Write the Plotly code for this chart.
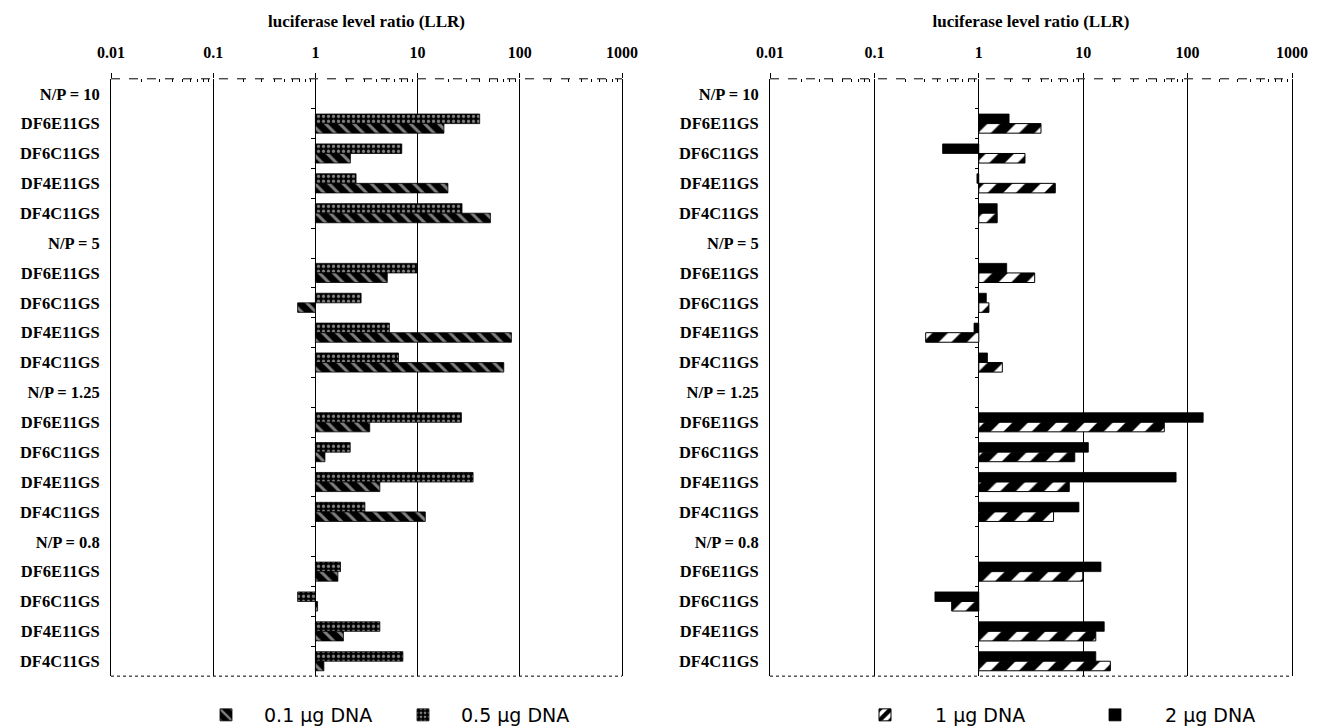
import plotly.graph_objects as go

# ---------------- data ----------------
rows = ["N/P = 10", "DF6E11GS", "DF6C11GS", "DF4E11GS", "DF4C11GS",
        "N/P = 5", "DF6E11GS", "DF6C11GS", "DF4E11GS", "DF4C11GS",
        "N/P = 1.25", "DF6E11GS", "DF6C11GS", "DF4E11GS", "DF4C11GS",
        "N/P = 0.8", "DF6E11GS", "DF6C11GS", "DF4E11GS", "DF4C11GS"]
row_pos = list(range(len(rows)))

llr_01ug = [None, 18.1, 2.2, 19.8, 51.6, None, 5.05, 0.67, 82.8, 69.7,
            None, 3.4, 1.24, 4.27, 11.9, None, 1.66, 1.05, 1.88, 1.21]
llr_05ug = [None, 40.5, 7.0, 2.5, 27.2, None, 9.85, 2.8, 5.3, 6.5,
            None, 26.8, 2.19, 34.9, 3.05, None, 1.76, 0.67, 4.27, 7.18]
llr_1ug = [None, 3.94, 2.77, 5.4, 1.5, None, 3.43, 1.25, 0.31, 1.68,
           None, 59.8, 8.3, 7.35, 5.2, None, 9.9, 0.55, 13.2, 18.2]
llr_2ug = [None, 1.95, 0.45, 0.96, 1.5, None, 1.85, 1.18, 0.9, 1.21,
           None, 141, 11.2, 77.6, 9.1, None, 14.8, 0.38, 15.9, 13.2]

x_ticks = [0.01, 0.1, 1, 10, 100, 1000]
x_tick_text = ["0.01", "0.1", "1", "10", "100", "1000"]
x_title = "luciferase level ratio (LLR)"

# ---------------- helpers ----------------
def from_one(vals):
    return [None if v is None else v - 1 for v in vals]

SERIF = "Liberation Serif"
SANS = "DejaVu Sans"

fig = go.Figure()

# left panel: top bar 0.5 ug (dotted), bottom bar 0.1 ug (diagonal)
fig.add_trace(go.Bar(
    y=row_pos, x=from_one(llr_05ug), base=1, orientation="h",
    name="0.5 μg DNA", legend="legend", legendrank=2,
    marker=dict(color="black", line=dict(color="black", width=0.8),
                pattern=dict(shape=".", fgcolor="white", bgcolor="black",
                             size=5, solidity=0.35)),
    xaxis="x", yaxis="y"))
fig.add_trace(go.Bar(
    y=row_pos, x=from_one(llr_01ug), base=1, orientation="h",
    name="0.1 μg DNA", legend="legend", legendrank=1,
    marker=dict(color="black", line=dict(color="black", width=0.8),
                pattern=dict(shape="\\", fgcolor="white", bgcolor="black",
                             size=10, solidity=0.3)),
    xaxis="x", yaxis="y"))

# right panel: top bar 2 ug (solid), bottom bar 1 ug (hatched)
fig.add_trace(go.Bar(
    y=row_pos, x=from_one(llr_2ug), base=1, orientation="h",
    name="2 μg DNA", legend="legend2", legendrank=2,
    marker=dict(color="black", line=dict(color="black", width=0.8)),
    xaxis="x2", yaxis="y2"))
fig.add_trace(go.Bar(
    y=row_pos, x=from_one(llr_1ug), base=1, orientation="h",
    name="1 μg DNA", legend="legend2", legendrank=1,
    marker=dict(color="white", line=dict(color="black", width=1),
                pattern=dict(shape="/", fgcolor="black", bgcolor="white",
                             fgopacity=1, size=20, solidity=0.55)),
    xaxis="x2", yaxis="y2"))

# empty traces that carry the category tick axes drawn at ratio = 1
fig.add_trace(go.Scatter(x=[], y=[], xaxis="x", yaxis="y3", showlegend=False, hoverinfo="skip"))
fig.add_trace(go.Scatter(x=[], y=[], xaxis="x2", yaxis="y4", showlegend=False, hoverinfo="skip"))

# ---------------- layout (page has an 8px body margin) ----------------
W, H = 1318, 726
OFF = 8

def px_x(p):
    return (p - OFF) / W

def px_y(p):
    return 1 - (p - OFF) / H

left_dom = [px_x(111), px_x(622)]
right_dom = [px_x(770), px_x(1292)]
y_dom = [px_y(678), px_y(79)]

minor_vals = [m * 10 ** e for e in range(-2, 3) for m in range(2, 10)]

def xaxis_cfg(dom, anchor):
    return dict(
        type="log", range=[-2, 3], domain=dom, anchor=anchor, side="top",
        tickmode="array", tickvals=x_ticks, ticktext=x_tick_text,
        ticks="outside", ticklen=5, tickcolor="black", tickwidth=1,
        ticklabelstandoff=8,
        showgrid=True, gridcolor="black", gridwidth=1,
        showline=False, zeroline=False, automargin=False,
        tickfont=dict(family=SERIF, size=16, color="black", weight="bold"),
        title=dict(text=x_title, standoff=12,
                   font=dict(family=SERIF, size=17, color="black", weight="bold")),
        minor=dict(tickmode="array", tickvals=minor_vals, ticks="inside",
                   ticklen=3, tickcolor="black", tickwidth=1, showgrid=False),
        fixedrange=True,
    )

def yaxis_cfg(anchor):
    return dict(
        domain=y_dom, anchor=anchor, range=[19.5, -0.5],
        tickmode="array", tickvals=row_pos, ticktext=rows, ticks="",
        showgrid=False, zeroline=False, showline=True, mirror=True,
        linecolor="black", linewidth=1, automargin=False,
        ticklabelstandoff=7,
        tickfont=dict(family=SERIF, size=16.5, color="black", weight="bold"),
        fixedrange=True,
    )

def tick_axis_cfg(overlay, dom):
    return dict(
        overlaying=overlay, anchor="free",
        position=dom[0] + (dom[1] - dom[0]) * 2 / 5,
        range=[19.5, -0.5], tickmode="array",
        tickvals=[k + 0.5 for k in range(len(rows) - 1)],
        ticks="outside", ticklen=4, tickcolor="black", tickwidth=1,
        showticklabels=False, showgrid=False, zeroline=False, showline=False,
        automargin=False, fixedrange=True,
    )

frame_shapes = []
for xr, yr in (("x domain", "y domain"), ("x2 domain", "y2 domain")):
    frame_shapes.append(dict(type="line", xref=xr, yref=yr, x0=0, x1=1, y0=1, y1=1,
                             line=dict(color="black", width=1, dash="dash")))
    frame_shapes.append(dict(type="line", xref=xr, yref=yr, x0=0, x1=1, y0=0, y1=0,
                             line=dict(color="black", width=1, dash="dot")))

legend_common = dict(orientation="h", yanchor="middle", xanchor="left", y=px_y(717),
                     font=dict(family=SANS, size=19, color="black"),
                     bgcolor="rgba(0,0,0,0)", traceorder="normal",
                     entrywidthmode="pixels")

fig.update_layout(
    width=W, height=H,
    margin=dict(l=0, r=0, t=0, b=0),
    paper_bgcolor="white", plot_bgcolor="white",
    barmode="group", bargap=0.36, bargroupgap=0,
    xaxis=xaxis_cfg(left_dom, "y"),
    xaxis2=xaxis_cfg(right_dom, "y2"),
    yaxis=yaxis_cfg("x"),
    yaxis2=yaxis_cfg("x2"),
    yaxis3=tick_axis_cfg("y", left_dom),
    yaxis4=tick_axis_cfg("y2", right_dom),
    legend=dict(x=px_x(188), entrywidth=116, itemwidth=66, **legend_common),
    legend2=dict(x=px_x(835), entrywidth=125, itemwidth=90, **legend_common),
    shapes=frame_shapes,
    showlegend=True,
)

fig.write_html("out.html")
